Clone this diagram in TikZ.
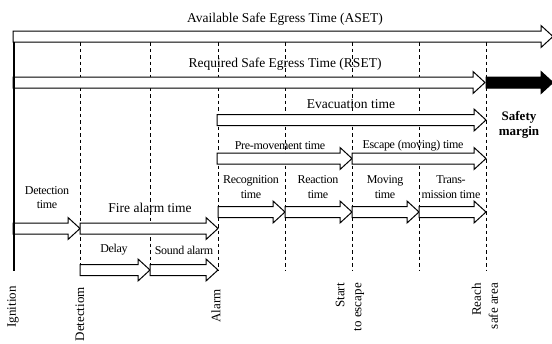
\documentclass[tikz,border=0pt]{standalone}
\usepackage{fontspec}
\setmainfont{Liberation Serif}
\newfontfamily\tightserif[LetterSpace=-2.5]{Liberation Serif}
\tikzset{
  arr/.style={draw=black, fill=white, line width=1pt, line join=miter},
  blackarr/.style={draw=black, fill=black, line width=1pt},
  guide/.style={draw=black, line width=0.8pt, dash pattern=on 3.5pt off 3pt},
  bigtxt/.style={font=\fontsize{13.5}{15}\selectfont, inner sep=0pt},
  smalltxt/.style={font=\tightserif\fontsize{12}{14.5}\selectfont, inner sep=0pt, align=center},
  boldtxt/.style={font=\fontsize{13}{15}\selectfont\bfseries, inner sep=0pt, align=center},
  vlabel/.style={font=\fontsize{13}{17}\selectfont, inner sep=0pt, rotate=90, anchor=east, align=right},
}
\newcommand{\tlarrow}[4][arr]{%
  \draw[#1] (#2,#4-5.5) -- (#3-12,#4-5.5) -- (#3-12,#4-11) -- (#3,#4)
    -- (#3-12,#4+11) -- (#3-12,#4+5.5) -- (#2,#4+5.5) -- cycle;}
\begin{document}
\begin{tikzpicture}[x=1pt,y=-1pt]
\useasboundingbox (0,0) rectangle (552,343);
% guide coordinates
\foreach \n/\x in {det/80, dly/150, alm/218, rec/285, esc/352, mov/419, safe/486}{
  \coordinate (\n-top) at (\x,42);
  \coordinate (\n-bot) at (\x,271);
  \draw[guide] (\n-top) -- (\n-bot);
}
% arrows
\tlarrow{13}{553}{36.5}
\tlarrow{13}{485}{82.5}
\tlarrow[blackarr]{486}{553}{82.5}
\tlarrow{217}{486}{120}
\tlarrow{217}{352}{158.5}
\tlarrow{352}{486}{158.5}
\tlarrow{218}{285}{212}
\tlarrow{285}{352}{212}
\tlarrow{352}{419}{212}
\tlarrow{419}{486}{212}
\tlarrow{13}{80}{228.5}
\tlarrow{80}{218}{228.5}
\tlarrow{80}{150}{270}
\tlarrow{150}{218}{270}
% ignition line
\coordinate (ign-top) at (14,42);
\coordinate (ign-bot) at (14,271);
\draw[line width=2.6pt] (ign-top) -- (ign-bot);
% texts
\node[bigtxt] (aset) at (285,19) {Available Safe Egress Time (ASET)};
\node[bigtxt] (rset) at (285,64) {Required Safe Egress Time (RSET)};
\node[bigtxt] (evac) at (351,104) {Evacuation time};
\node[boldtxt] (sm) at (519,125) {Safety\\margin};
\node[smalltxt] (pre) at (280,145.5) {Pre-movement time};
\node[smalltxt] (escm) at (413,146) {Escape (moving) time};
\node[smalltxt] (recog) at (251,187) {Recognition\\time};
\node[smalltxt] (react) at (318,187) {Reaction\\time};
\node[smalltxt] (movt) at (385,187) {Moving\\time};
\node[smalltxt] (trans) at (451,187) {Trans-\\mission time};
\node[smalltxt] (dett) at (47,197.5) {Detection\\time};
\node[bigtxt] (fat) at (150,208) {Fire alarm time};
\node[smalltxt] (delay) at (114,250) {Delay};
\node[smalltxt] (sound) at (184,250) {Sound alarm};
% bottom labels
\node[vlabel] (lign) at (13,286) {Ignition};
\node[vlabel] (ldet) at (80,287) {Detectiom};
\node[vlabel] (lalm) at (216,289) {Alarm};
\node[vlabel] (lesc) at (350,283) {Start\\to escape};
\node[vlabel] (lsafe) at (485,283) {Reach\\safe area};
\end{tikzpicture}
\end{document}
